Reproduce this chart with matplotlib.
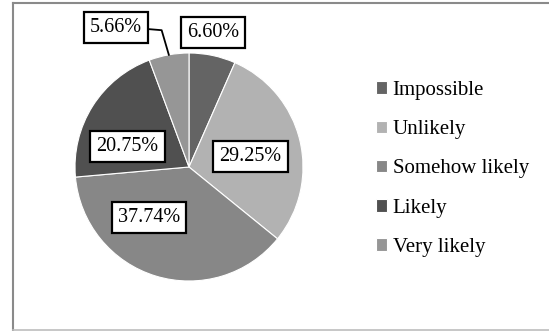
import matplotlib.pyplot as plt
import numpy as np
from matplotlib.lines import Line2D

categories = ['Impossible', 'Unlikely', 'Somehow likely', 'Likely', 'Very likely']
percents = [6.60, 29.25, 37.74, 20.75, 5.66]
labels = ['6.60%', '29.25%', '37.74%', '20.75%', '5.66%']

colors = ['#646464', '#b2b2b2', '#878787', '#505050', '#969696']
# label box centres (data units, pie radius = 1)
label_pos = [(0.21, 1.18), (0.54, 0.09), (-0.35, -0.44), (-0.54, 0.18), (-0.64, 1.22)]

plt.rcParams['font.family'] = ['Liberation Serif', 'DejaVu Serif']

W, H = 549, 331
fig = plt.figure(figsize=(W / 100, H / 100), dpi=100)

# outer frame
fig.add_artist(Line2D([13 / W, 13 / W], [1 - 330 / H, 1 - 3 / H], color='#8a8a8a', lw=1.5))
fig.add_artist(Line2D([13 / W, 1], [1 - 3 / H, 1 - 3 / H], color='#8a8a8a', lw=1.5))
fig.add_artist(Line2D([13 / W, 1], [1 - 330 / H, 1 - 330 / H], color='#bdbdbd', lw=1.2))

cx, cy, r = 189, 167, 114
xl, yl = 1.6, 1.4
ax = fig.add_axes([(cx - xl * r) / W, 1 - (cy + yl * r) / H, 2 * xl * r / W, 2 * yl * r / H])

wedges, _ = ax.pie(percents, colors=colors, startangle=90, counterclock=False,
                   wedgeprops=dict(edgecolor='white', linewidth=0.8))
ax.set_xlim(-xl, xl)
ax.set_ylim(-yl, yl)
ax.set_aspect('equal')
ax.axis('off')

for (x, y), txt in zip(label_pos, labels):
    ax.text(x, y, txt, ha='center', va='center', fontsize=14.5,
            bbox=dict(boxstyle='square,pad=0.3', fc='white', ec='black', lw=1.6))

# leader line for the small "Very likely" slice
w = wedges[4]
mid = np.deg2rad((w.theta1 + w.theta2) / 2)
ax.plot([-0.36, -0.24, np.cos(mid)], [1.21, 1.20, np.sin(mid)], color='black', lw=1.3)

leg = fig.legend(wedges, categories, loc='upper left', bbox_to_anchor=(376 / W, 1 - 81 / H),
                 frameon=False, fontsize=15, handlelength=0.55, handleheight=0.55,
                 handletextpad=0.25, labelspacing=0.97, borderpad=0, borderaxespad=0)

plt.savefig('out.png', dpi=100)
